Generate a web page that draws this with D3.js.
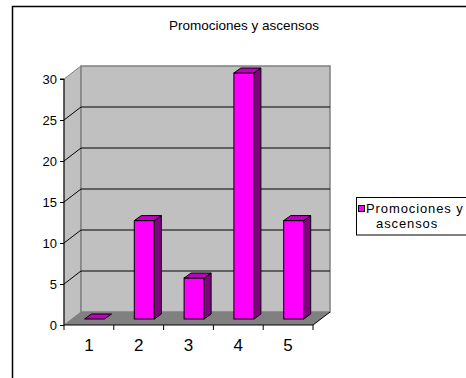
<!DOCTYPE html>
<html><head><meta charset="utf-8">
<script src="https://cdn.jsdelivr.net/npm/d3@7"></script>
<style>body{margin:0;background:#fff}svg{display:block;font-family:Arial,"Liberation Sans",sans-serif}</style>
</head><body>
<svg id="c" width="466" height="378"></svg>
<script>
const categories = ["1","2","3","4","5"];
const values = [0, 12, 5, 30, 12];
const yTicks = [0,5,10,15,20,25,30];
const title = "Promociones y ascensos";
const seriesName = ["Promociones y", "ascensos"];

const svg = d3.select("#c");
const X0 = 64, X1 = 313, DX = 17, DY = -13;
const x = d3.scaleBand().domain(categories).range([X0, X1]);
const y = d3.scaleLinear().domain([0, 30]).range([325, 79]);

// outer frame
svg.append("path").attr("d","M12.5,378 L12.5,6.5 L466,6.5").attr("fill","none").attr("stroke","#000").attr("stroke-width",1.5);

svg.append("text").attr("x",244).attr("y",30).attr("text-anchor","middle").attr("font-size",13.5).text(title);

// left wall
svg.append("polygon").attr("points",[[X0,y(30)],[X0+DX,y(30)+DY],[X0+DX,y(0)+DY],[X0,y(0)]].join(" "))
  .attr("fill","#c0c0c0").attr("stroke","#808080");
// back wall
svg.append("rect").attr("x",X0+DX).attr("y",y(30)+DY).attr("width",X1-X0).attr("height",y(0)-y(30))
  .attr("fill","#c0c0c0").attr("stroke","#808080").attr("stroke-width",1.5);
// floor
svg.append("polygon").attr("points",[[X0,y(0)],[X1,y(0)],[X1+DX,y(0)+DY],[X0+DX,y(0)+DY]].join(" "))
  .attr("fill","#808080");
svg.append("line").attr("x1",X1).attr("y1",y(0)).attr("x2",X1+DX).attr("y2",y(0)+DY).attr("stroke","#000");

// gridlines
yTicks.filter(t=>t>0&&t<30).forEach(t=>{
  svg.append("path").attr("d",`M${X0},${y(t)} L${X0+DX},${y(t)+DY} L${X1+DX},${y(t)+DY}`)
    .attr("fill","none").attr("stroke","#000").attr("stroke-width",1);
});

// y axis
const yAxis = d3.axisLeft(y).tickValues(yTicks).tickSize(4).tickPadding(3);
const ga = svg.append("g").attr("transform",`translate(${X0},0)`).call(yAxis);
ga.select(".domain").attr("d",`M-4,${y(30)}H0V${y(0)}`);
ga.selectAll("text").attr("font-size",13).attr("font-family","Arial, 'Liberation Sans', sans-serif").attr("fill","#000");

// x axis
const xAxis = d3.axisBottom(x).tickSize(0).tickPadding(0);
const gx = svg.append("g").attr("transform",`translate(0,${y(0)})`).call(xAxis);
gx.select(".domain").attr("d",`M${X0},0H${X1}`).attr("stroke","#000");
gx.selectAll("text").attr("font-size",17).attr("dy","0").attr("y",26).attr("font-family","Arial, 'Liberation Sans', sans-serif").attr("fill","#000");
const bounds = categories.map(c=>x(c)).concat([X1]);
svg.selectAll(".xt").data(bounds).join("line").attr("x1",d=>d).attr("x2",d=>d)
  .attr("y1",y(0)).attr("y2",y(0)+5).attr("stroke","#000");

// bars
const BO = 20.5, BW = 20, BX = 0, BY = -6, BDX = 7, BDY = -5;
const bars = svg.append("g");
categories.forEach((c,i)=>{
  const v = values[i];
  const l = x(c)+BO+BX, r = l+BW, b = y(0)+BY, t = y(v)+BY;
  if (v > 0) {
    bars.append("rect").attr("x",l).attr("y",t).attr("width",BW).attr("height",b-t)
      .attr("fill","#ff00ff").attr("stroke","#000");
    bars.append("polygon").attr("points",[[r,t],[r+BDX,t+BDY],[r+BDX,b+BDY],[r,b]].join(" "))
      .attr("fill","#800080").attr("stroke","#000");
  }
  bars.append("polygon").attr("points",[[l,t],[r,t],[r+BDX,t+BDY],[l+BDX,t+BDY]].join(" "))
    .attr("fill","#c000c0").attr("stroke","#000");
});

// legend
svg.append("rect").attr("x",356.5).attr("y",197.5).attr("width",120).attr("height",37.5)
  .attr("fill","#fff").attr("stroke","#000");
svg.append("rect").attr("x",358.5).attr("y",205.5).attr("width",6).attr("height",6)
  .attr("fill","#ff00ff").attr("stroke","#000");
svg.append("text").attr("x",366).attr("y",212.5).attr("font-size",13).attr("letter-spacing",0.9).text(seriesName[0]);
svg.append("text").attr("x",376).attr("y",227.5).attr("font-size",13).attr("letter-spacing",0.9).text(seriesName[1]);
</script>
</body></html>
